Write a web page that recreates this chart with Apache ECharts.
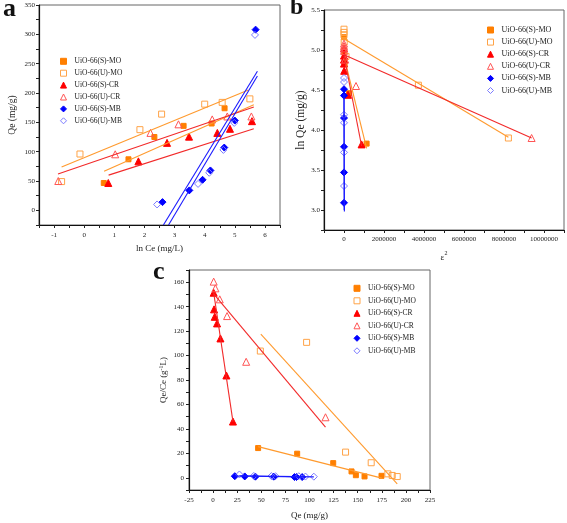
<!DOCTYPE html>
<html>
<head>
<meta charset="utf-8">
<script src="https://cdn.jsdelivr.net/npm/echarts@6/dist/echarts.min.js"></script>
<style>html,body{margin:0;padding:0;background:#fff;}#c{width:567px;height:523px;}</style>
</head>
<body>
<div id="c"></div>
<script>
// ---------- Panel a: Qe vs ln Ce ----------
const aSMO_x = [0.65, 1.47, 2.33, 3.30, 4.23, 4.66];
const aSMO_y = [46.6, 87, 125, 144, 148, 174];
const aUMO_x = [-0.75, -0.14, 1.85, 2.57, 4.0, 4.58, 5.5];
const aUMO_y = [49, 96, 137.5, 164, 181, 184, 190];
const aSCR_x = [0.80, 1.80, 2.75, 3.48, 4.42, 4.84, 5.57];
const aSCR_y = [46.6, 83.5, 115, 125.6, 132, 139, 152];
const aUCR_x = [-0.86, 1.03, 2.20, 3.13, 4.25, 4.75, 5.55];
const aUCR_y = [50, 95.5, 132, 146.6, 155, 160, 160];
const aSMB_x = [2.60, 3.49, 3.93, 4.19, 4.65, 5.0, 5.69];
const aSMB_y = [14, 34, 52, 68, 107, 153, 308];
const aUMB_x = [2.42, 3.78, 4.15, 4.62, 4.98, 5.67];
const aUMB_y = [10, 45, 64, 103, 149, 299];
// fitted lines (end points)
const aFitUMO = [[-0.75, 74], [5.45, 205]];
const aFitUCR = [[-0.87, 62], [5.63, 176]];
const aFitSMO = [[0.66, 66.5], [5.63, 180]];
const aFitSCR = [[0.81, 60], [5.63, 139]];
const aFitSMB = [[2.63, -25], [5.75, 237]];
const aFitUMB = [[2.80, -25], [5.75, 229]];

// ---------- Panel b: ln Qe vs epsilon^2 ----------
const bSMO_x = [0, 5000, 10000, 30000, 250000, 1130000];
const bSMO_y = [5.16, 5.00, 4.97, 4.83, 4.46, 3.83];
const bUMO_x = [0, 0, 0, 10000, 100000, 3720000, 8220000];
const bUMO_y = [5.26, 5.22, 5.19, 5.10, 4.92, 4.56, 3.90];
const bSCR_x = [0, 0, 0, 0, 10000, 200000, 880000];
const bSCR_y = [5.02, 4.93, 4.88, 4.83, 4.74, 4.44, 3.82];
const bUCR_x = [0, 0, 0, 0, 60000, 600000, 9380000];
const bUCR_y = [5.08, 5.05, 5.02, 4.99, 4.88, 4.55, 3.90];
const bSMB_x = [0, 0, 0, 0, 0, 0];
const bSMB_y = [4.51, 4.43, 4.15, 3.79, 3.47, 3.09];
const bUMB_x = [0, 0, 0, 0, 0, 0];
const bUMB_y = [4.65, 4.60, 4.19, 4.09, 3.72, 3.30];
const bFitUMO = [[0, 5.14], [8220000, 3.91]];
const bFitUCR = [[0, 4.94], [9380000, 3.90]];
const bFitSMO = [[20000, 4.90], [1130000, 3.77]];
const bFitSCR = [[0, 4.93], [880000, 3.80]];
const bFitSMB = [[0, 4.45], [20000, 2.98]];
const bFitUMB = [[0, 4.40], [10000, 3.00]];

// ---------- Panel c: Qe/Ce vs Qe ----------
const cSMO_x = [46.7, 87.2, 124.6, 143.6, 148.1, 157.1, 174.7];
const cSMO_y = [24.3, 19.7, 12, 5.2, 2.1, 1.1, 1.6];
const cUMO_x = [49, 97, 137.4, 164, 181.3, 185.8, 191];
const cUMO_y = [103.7, 110.8, 21, 12.3, 3.2, 1.9, 1.0];
const cSCR_x = [0.6, 1, 1.7, 4.1, 7.6, 13.8, 20.6];
const cSCR_y = [151.4, 137.8, 131.7, 126.3, 114, 83.7, 46];
const cUCR_x = [0.6, 2.4, 6.9, 14.5, 34.3, 116.6];
const cUCR_y = [160.5, 155, 146, 132.3, 94.9, 49.5];
const cSMB_x = [22.5, 32.8, 43.9, 62.9, 84.4, 86.5, 92.4];
const cSMB_y = [1.3, 1.1, 0.9, 0.9, 0.6, 0.6, 0.6];
const cUMB_x = [27.3, 42.2, 60.5, 64.7, 88.9, 95.8, 104.5];
const cUMB_y = [2.7, 1.5, 1.4, 1.3, 1.3, 1.0, 0.9];
const cFitSMO = [[46.7, 25.5], [175, -0.3]];
const cFitUMO = [[49.5, 117.5], [191, -4.9]];
const cFitSCR = [[0.6, 151.5], [20.6, 46]];
const cFitUCR = [[0.6, 150.5], [116.6, 41.5]];
const cFitSMB = [[22.5, 1.4], [92.4, 0.6]];
const cFitUMB = [[27.3, 1.6], [104.5, 0.7]];

const names = ['UiO-66(S)-MO', 'UiO-66(U)-MO', 'UiO-66(S)-CR', 'UiO-66(U)-CR', 'UiO-66(S)-MB', 'UiO-66(U)-MB'];

const FONT = 'Liberation Serif';
const zip = (xs, ys) => xs.map((x, i) => [x, ys[i]]);

// marker styles for the six series
const styles = [
  {symbol: 'rect', size: 5, fill: '#FF7F00', border: '#FF7F00'},
  {symbol: 'rect', size: 6, fill: 'rgba(255,255,255,0)', border: '#FFA347'},
  {symbol: 'triangle', size: 7, fill: '#FF0000', border: '#FF0000'},
  {symbol: 'triangle', size: 7, fill: 'rgba(255,255,255,0)', border: '#FF5555'},
  {symbol: 'diamond', size: 7, fill: '#0000FF', border: '#0000FF'},
  {symbol: 'diamond', size: 7, fill: 'rgba(255,255,255,0)', border: '#7B7BFF'}
];
const fitColors = ['#FF9A2E', '#FF9A2E', '#F22A2A', '#F22A2A', '#1A1AFF', '#1A1AFF'];

function scatter(i, idx, xs, ys) {
  const s = styles[i];
  return {
    type: 'scatter', name: names[i], xAxisIndex: idx, yAxisIndex: idx,
    data: zip(xs, ys), symbol: s.symbol, symbolSize: s.size,
    itemStyle: {color: s.fill, borderColor: s.border, borderWidth: 1, opacity: 1},
    z: 3
  };
}
function fit(i, idx, pts, tag) {
  return {
    type: 'line', name: 'fit-' + tag + '-' + i, xAxisIndex: idx, yAxisIndex: idx,
    data: pts, symbol: 'none', clip: true,
    lineStyle: {color: fitColors[i], width: 1.1}, z: 4, silent: true
  };
}

const tickStyle = {show: true, inside: false, length: 3, lineStyle: {color: '#222', width: 1}};
const axisLineStyle = {show: true, onZero: false, lineStyle: {color: '#111', width: 1.2}};
const labelStyle = {fontFamily: FONT, fontSize: 7, color: '#222'};

function legendFor(left, top, gap, fs) {
  return {
    orient: 'vertical', left: left, top: top, itemWidth: 6, itemHeight: 6, itemGap: gap,
    selectedMode: false, padding: 0,
    textStyle: {fontFamily: FONT, fontSize: fs, color: '#222', lineHeight: 8, padding: [0, 0, 0, 3]},
    data: names.map((n, i) => ({
      name: n, icon: styles[i].symbol,
      itemStyle: {color: styles[i].fill, borderColor: styles[i].border, borderWidth: 1}
    }))
  };
}

const option = {
  backgroundColor: '#fff',
  animation: false,
  grid: [
    {left: 39, top: 5, width: 241, height: 220, show: true, borderColor: '#666', borderWidth: 1},
    {left: 324, top: 10, width: 241, height: 220, show: true, borderColor: '#666', borderWidth: 1},
    {left: 189, top: 270, width: 241, height: 220, show: true, borderColor: '#666', borderWidth: 1}
  ],
  xAxis: [
    {gridIndex: 0, type: 'value', min: -1.5, max: 6.5, interval: 0.5,
     name: 'ln Ce (mg/L)', nameLocation: 'middle', nameGap: 19,
     nameTextStyle: {fontFamily: FONT, fontSize: 9, color: '#222'},
     axisLine: axisLineStyle, axisTick: tickStyle, splitLine: {show: false},
     axisLabel: Object.assign({margin: 7, formatter: v => Number.isInteger(v) ? String(v) : ''}, labelStyle)},
    {gridIndex: 1, type: 'value', min: -1000000, max: 11000000, interval: 1000000,
     name: '{e|ε}{s|2}', nameLocation: 'middle', nameGap: 20,
     nameTextStyle: {fontFamily: FONT, fontSize: 9, color: '#222',
       rich: {e: {fontFamily: FONT, fontSize: 9, color: '#222', verticalAlign: 'bottom'},
              s: {fontFamily: FONT, fontSize: 6, color: '#222', verticalAlign: 'top', padding: [0, 0, 6, 0]}}},
     axisLine: axisLineStyle, axisTick: tickStyle, splitLine: {show: false},
     axisLabel: Object.assign({margin: 6, formatter: v => (Math.round(v / 1000000) % 2 === 0) ? String(v) : ''}, labelStyle)},
    {gridIndex: 2, type: 'value', min: -25, max: 225, interval: 12.5,
     name: 'Qe (mg/g)', nameLocation: 'middle', nameGap: 21,
     nameTextStyle: {fontFamily: FONT, fontSize: 9, color: '#222'},
     axisLine: axisLineStyle, axisTick: tickStyle, splitLine: {show: false},
     axisLabel: Object.assign({margin: 7, formatter: v => (v % 25 === 0) ? String(v) : ''}, labelStyle)}
  ],
  yAxis: [
    {gridIndex: 0, type: 'value', min: -25, max: 350, interval: 25,
     name: 'Qe (mg/g)', nameLocation: 'middle', nameGap: 22, nameRotate: 90,
     nameTextStyle: {fontFamily: FONT, fontSize: 9.5, color: '#222'},
     axisLine: axisLineStyle, axisTick: tickStyle, splitLine: {show: false},
     axisLabel: Object.assign({margin: 4, formatter: v => (v % 50 === 0) ? String(v) : ''}, labelStyle)},
    {gridIndex: 1, type: 'value', min: 2.75, max: 5.5, interval: 0.25,
     name: 'ln Qe (mg/g)', nameLocation: 'middle', nameGap: 17, nameRotate: 90,
     nameTextStyle: {fontFamily: FONT, fontSize: 11.5, color: '#222'},
     axisLine: axisLineStyle, axisTick: tickStyle, splitLine: {show: false},
     axisLabel: Object.assign({margin: 4, formatter: v => (Math.round(v * 100) % 50 === 0) ? v.toFixed(1) : ''}, labelStyle)},
    {gridIndex: 2, type: 'value', min: -10, max: 170, interval: 10,
     name: 'Qe/Ce (g{s|-1}L)', nameLocation: 'middle', nameGap: 20, nameRotate: 90,
     nameTextStyle: {fontFamily: FONT, fontSize: 9, color: '#222',
       rich: {s: {fontFamily: FONT, fontSize: 6, color: '#222', padding: [0, 0, 5, 0]}}},
     axisLine: axisLineStyle, axisTick: tickStyle, splitLine: {show: false},
     axisLabel: Object.assign({margin: 5, formatter: v => (v % 20 === 0) ? String(v) : ''}, labelStyle)}
  ],
  legend: [legendFor(60, 57.3, 3.9, 7.5), legendFor(487, 26, 4.1, 8), legendFor(353.5, 284.3, 4.5, 7.5)],
  graphic: [
    {type: 'text', left: 3, top: -4, style: {text: 'a', font: 'bold 26px "Liberation Serif"', fill: '#111'}},
    {type: 'text', left: 290, top: -4, style: {text: 'b', font: 'bold 24px "Liberation Serif"', fill: '#111'}},
    {type: 'text', left: 153, top: 259, style: {text: 'c', font: 'bold 26px "Liberation Serif"', fill: '#111'}}
  ],
  series: [
    scatter(0, 0, aSMO_x, aSMO_y), scatter(1, 0, aUMO_x, aUMO_y),
    scatter(2, 0, aSCR_x, aSCR_y), scatter(3, 0, aUCR_x, aUCR_y),
    scatter(4, 0, aSMB_x, aSMB_y), scatter(5, 0, aUMB_x, aUMB_y),
    fit(0, 0, aFitSMO, 'a'), fit(1, 0, aFitUMO, 'a'), fit(2, 0, aFitSCR, 'a'),
    fit(3, 0, aFitUCR, 'a'), fit(4, 0, aFitSMB, 'a'), fit(5, 0, aFitUMB, 'a'),

    scatter(0, 1, bSMO_x, bSMO_y), scatter(1, 1, bUMO_x, bUMO_y),
    scatter(2, 1, bSCR_x, bSCR_y), scatter(3, 1, bUCR_x, bUCR_y),
    scatter(4, 1, bSMB_x, bSMB_y), scatter(5, 1, bUMB_x, bUMB_y),
    fit(0, 1, bFitSMO, 'b'), fit(1, 1, bFitUMO, 'b'), fit(2, 1, bFitSCR, 'b'),
    fit(3, 1, bFitUCR, 'b'), fit(4, 1, bFitSMB, 'b'), fit(5, 1, bFitUMB, 'b'),

    scatter(0, 2, cSMO_x, cSMO_y), scatter(1, 2, cUMO_x, cUMO_y),
    scatter(2, 2, cSCR_x, cSCR_y), scatter(3, 2, cUCR_x, cUCR_y),
    scatter(4, 2, cSMB_x, cSMB_y), scatter(5, 2, cUMB_x, cUMB_y),
    fit(0, 2, cFitSMO, 'c'), fit(1, 2, cFitUMO, 'c'), fit(2, 2, cFitSCR, 'c'),
    fit(3, 2, cFitUCR, 'c'), fit(4, 2, cFitSMB, 'c'), fit(5, 2, cFitUMB, 'c')
  ]
};

const chart = echarts.init(document.getElementById('c'), null, {renderer: 'canvas'});
chart.setOption(option);
</script>
</body>
</html>
